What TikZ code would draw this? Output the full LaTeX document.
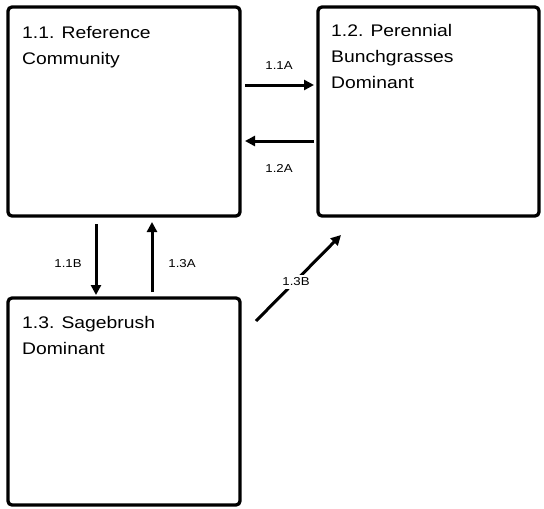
\documentclass[tikz,border=0pt]{standalone}
\usepackage{fontspec}
\setmainfont{Liberation Sans}[FakeStretch=1.15]
\usetikzlibrary{arrows.meta}
\begin{document}
\begin{tikzpicture}[x=1pt,y=-1pt,
  box/.style={draw=black,line width=3.3pt,rounded corners=4pt},
  title/.style={anchor=base west,inner sep=0pt,font=\fontsize{16.8}{26}\selectfont,align=left},
  lab/.style={inner sep=1pt,font=\fontsize{11.5}{13}\selectfont,fill=white},
  conn/.style={line width=3pt,-{Triangle[length=10pt,width=10pt]}}]
\useasboundingbox (0,0) rectangle (544,509);
\draw[box] (8,7) rectangle (240,216);
\draw[box] (318,7) rectangle (539,216);
\draw[box] (8,298) rectangle (240,505);
\node[title] (t1) at (22,64) {1.1. Reference\\Community};
\node[title] (t2) at (331,88) {1.2. Perennial\\Bunchgrasses\\Dominant};
\node[title] (t3) at (22,354) {1.3. Sagebrush\\Dominant};
% arrow endpoints
\coordinate (a1s) at (245,85); \coordinate (a1e) at (314,85);
\coordinate (a2s) at (314,141); \coordinate (a2e) at (245,141);
\coordinate (b1s) at (96,224); \coordinate (b1e) at (96,295);
\coordinate (b3s) at (152,292); \coordinate (b3e) at (152,222);
\coordinate (c3s) at (256,321); \coordinate (c3e) at (341,235);
\draw[conn] (a1s) -- (a1e);
\draw[conn] (a2s) -- (a2e);
\draw[conn] (b1s) -- (b1e);
\draw[conn] (b3s) -- (b3e);
\draw[conn] (c3s) -- (c3e);
\node[lab] (l1) at (279,66) {1.1A};
\node[lab] (l2) at (279,168) {1.2A};
\node[lab] (l3) at (68,264) {1.1B};
\node[lab] (l4) at (182,264) {1.3A};
\node[lab,inner sep=3pt] (l5) at (296,282) {1.3B};
\end{tikzpicture}
\end{document}
